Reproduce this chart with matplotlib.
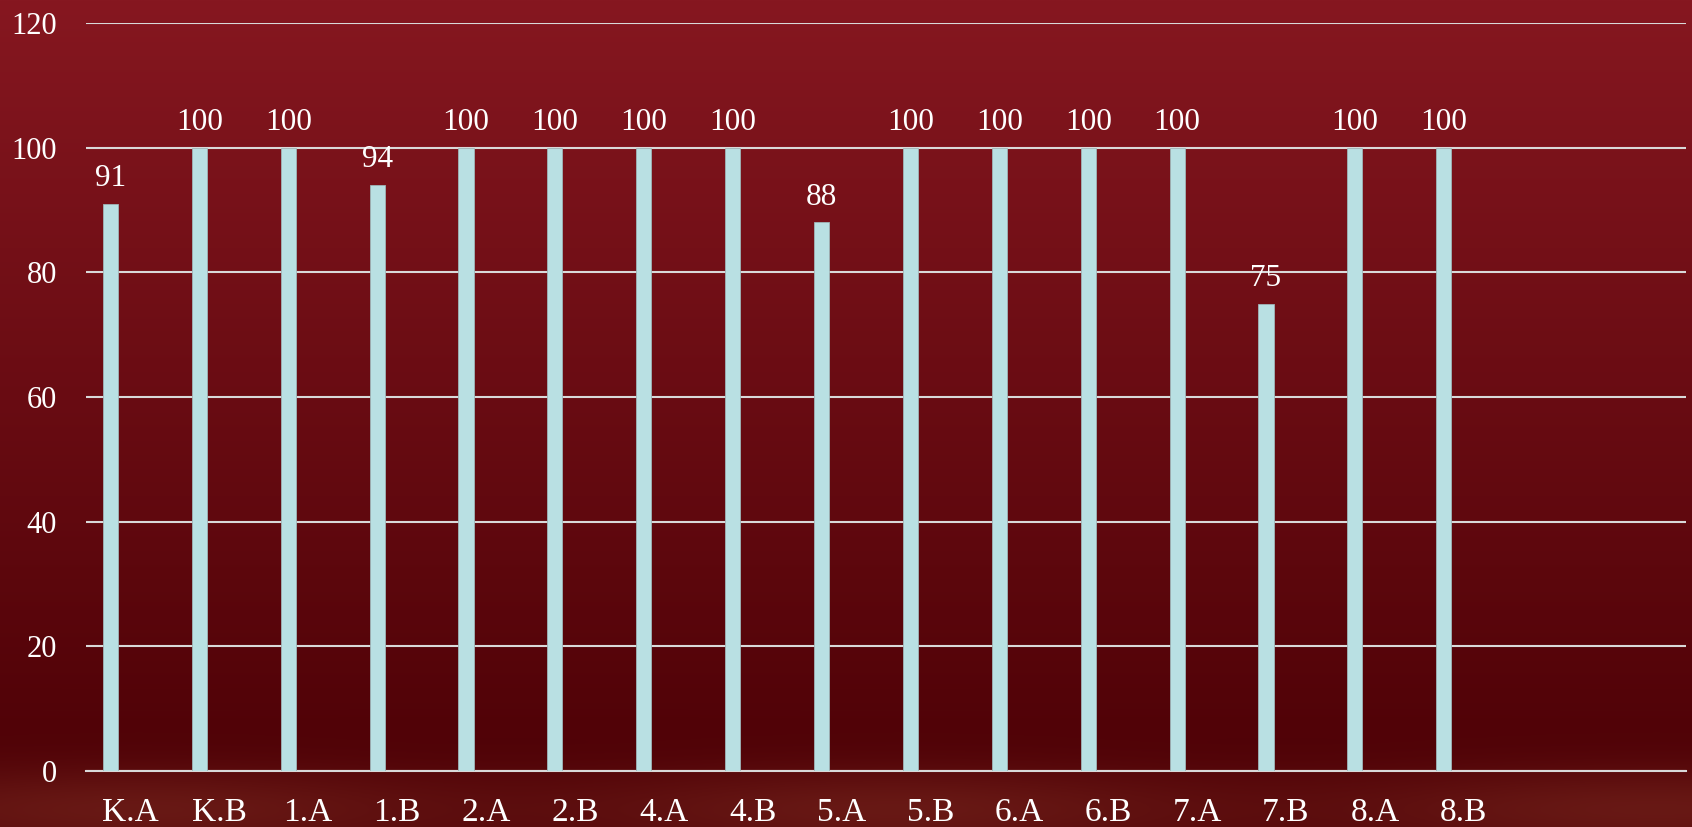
import numpy as np
import matplotlib
matplotlib.use('Agg')
import matplotlib.pyplot as plt

# Data
categories = ['K.A', 'K.B', '1.A', '1.B', '2.A', '2.B', '4.A', '4.B',
              '5.A', '5.B', '6.A', '6.B', '7.A', '7.B', '8.A', '8.B']
scores = [91, 100, 100, 94, 100, 100, 100, 100,
          88, 100, 100, 100, 100, 75, 100, 100]
y_ticks = [0, 20, 40, 60, 80, 100, 120]

plt.rcParams['font.family'] = ['Liberation Serif', 'DejaVu Serif']

W, H = 1692, 827
fig = plt.figure(figsize=(W / 100, H / 100), dpi=100)

# background: dark red vertical gradient with a lighter hazy band at the bottom
bg = fig.add_axes([0, 0, 1, 1], zorder=-10)
bg.set_axis_off()
yy = np.linspace(0, 1, 400)[:, None]
xx = np.linspace(0, 1, 600)[None, :]
top = np.array([0x86, 0x17, 0x20]) / 255
bot = np.array([0x50, 0x02, 0x07]) / 255
t = np.clip(yy / 0.9, 0, 1)
img = top[None, None, :] * (1 - t[..., None]) + bot[None, None, :] * t[..., None]
img = np.broadcast_to(img, (400, 600, 3)).copy()
haze = np.exp(-((yy - 0.98) / 0.05) ** 2) * (0.5 + 0.5 * np.sin(xx * 7 + 1) ** 2)
band = np.array([0x6e, 0x1e, 0x18]) / 255
img = img * (1 - haze[..., None] * 0.8) + band[None, None, :] * haze[..., None] * 0.8
bg.imshow(img, aspect='auto', extent=[0, 1, 1, 0])
bg.set_xlim(0, 1)
bg.set_ylim(1, 0)

# plot area in pixels: x 86..1686, y 23..771
ax = fig.add_axes([86 / W, 1 - 771 / H, 1600 / W, 748 / H])
ax.patch.set_alpha(0)

x = np.arange(len(categories))
bars = ax.bar(x - 0.225, scores, width=0.17, color='#b9e0e3',
              edgecolor='#9fb5b8', linewidth=0.6, zorder=3)

for xi, v in zip(x, scores):
    ax.text(xi - 0.225, v + 1.7, f'{v}', ha='center', va='bottom',
            color='white', fontsize=22.5, zorder=4)

ax.set_xlim(-0.5, 17.5)
ax.set_ylim(0, 120)
ax.set_yticks(y_ticks)
ax.set_yticklabels([str(v) for v in y_ticks], color='white', fontsize=22)
ax.set_xticks(x)
ax.set_xticklabels(categories, color='white', fontsize=24)
ax.tick_params(axis='both', length=0)
ax.tick_params(axis='y', pad=21)
ax.tick_params(axis='x', pad=19)

ax.grid(axis='y', color='#d9d9d9', linewidth=1.5, zorder=1)
for s in ['top', 'right', 'left']:
    ax.spines[s].set_visible(False)
ax.spines['bottom'].set_color('#d9d9d9')
ax.spines['bottom'].set_linewidth(1.5)

fig.savefig('out.png', dpi=100)
